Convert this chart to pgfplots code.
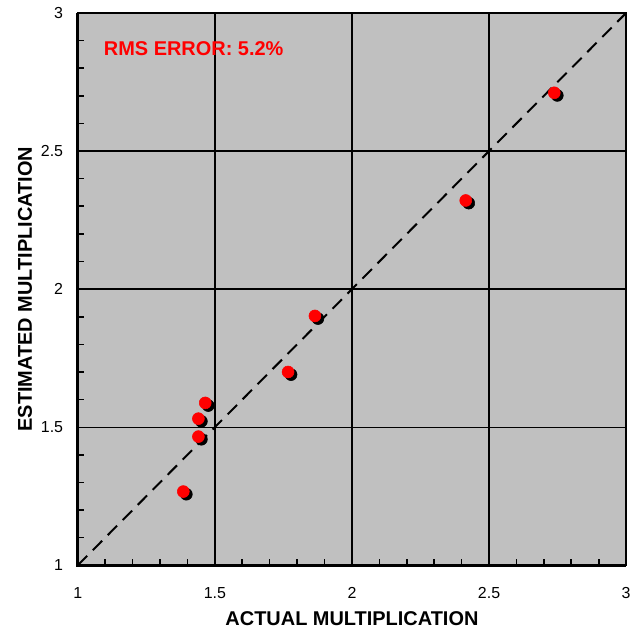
\documentclass[border=0pt]{standalone}
\usepackage{fontspec}
\setmainfont{Liberation Sans}
\usepackage{pgfplots}
\pgfplotsset{compat=1.18}
\definecolor{plotgray}{RGB}{192,192,192}

\begin{document}
\begin{tikzpicture}
\begin{axis}[
  name=ax,
  scale only axis, width=412.5pt, height=415.5pt,
  xmin=1, xmax=3, ymin=1, ymax=3,
  xtick={1,1.5,2,2.5,3}, ytick={1,1.5,2,2.5,3},
  minor tick num=4,
  tick pos=left, tick align=inside,
  major tick length=0pt, minor tick length=4.5pt,
  minor tick style={black, line width=1.2pt},
  grid=major, grid style={black, line width=1pt},
  axis background/.style={fill=plotgray},
  axis line style={black, line width=1.5pt},
  /pgf/number format/assume math mode=true,
  tick label style={font=\fontsize{12}{14}\selectfont},
  xticklabel style={yshift=-13pt},
  yticklabel style={xshift=-7.5pt},
  label style={font=\fontsize{15}{17}\selectfont\bfseries},
  xlabel={ACTUAL MULTIPLICATION},
  ylabel={ESTIMATED MULTIPLICATION},
  xlabel style={at={(axis description cs:0.5,-0.0957)}, anchor=center},
  ylabel style={at={(axis description cs:-0.0964,0.5)}, anchor=center},
  clip=false]
\addplot[black, line width=1.5pt, dash pattern=on 10pt off 6pt] coordinates {(1,1) (3,3)};
% shadow
\addplot[only marks, mark=*, mark size=4.5pt, black,
  every mark/.append style={xshift=2.25pt, yshift=-2pt}] coordinates {
  (2.738,2.711) (2.415,2.321) (1.865,1.903) (1.767,1.700)
  (1.465,1.588) (1.440,1.531) (1.440,1.466) (1.385,1.267)};
\addplot[only marks, mark=*, mark size=4.5pt, red, mark options={draw=red, fill=red}] coordinates {
  (2.738,2.711) (2.415,2.321) (1.865,1.903) (1.767,1.700)
  (1.465,1.588) (1.440,1.531) (1.440,1.466) (1.385,1.267)};
\node[anchor=west, red, font=\fontsize{15}{17}\selectfont\bfseries, inner sep=0pt]
  at (axis cs:1.0945,2.870) {RMS ERROR: 5.2\%};
\draw[black, line width=2.25pt] (rel axis cs:0,1) -- (rel axis cs:0,0) -- (rel axis cs:1,0);
\end{axis}
\path ([xshift=-58.5pt,yshift=-51pt]ax.south west) rectangle ([xshift=4.5pt,yshift=9.75pt]ax.north east);
\end{tikzpicture}
\end{document}
